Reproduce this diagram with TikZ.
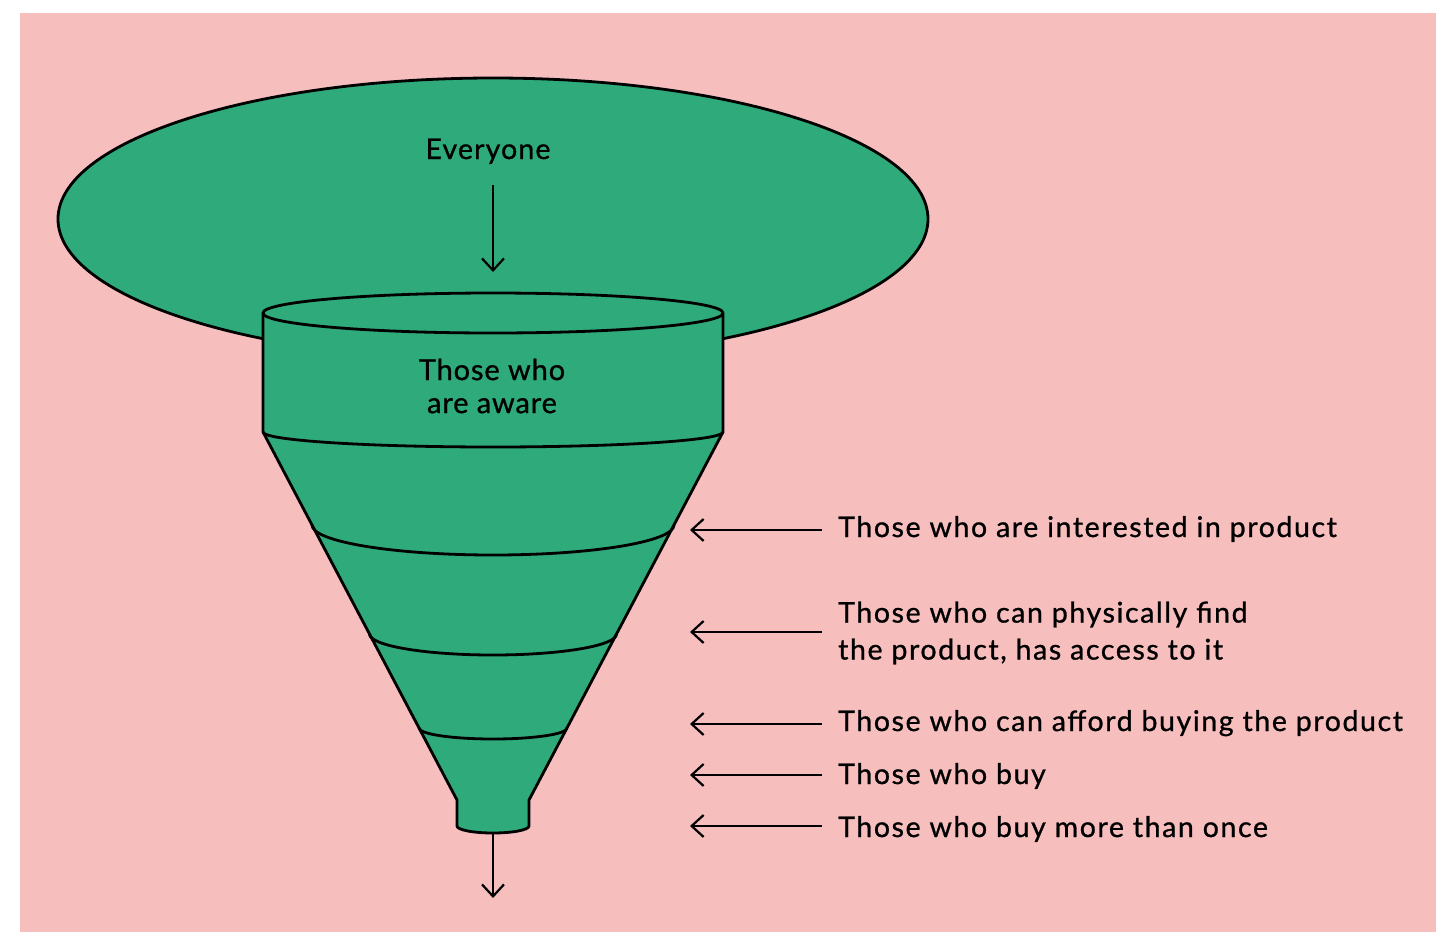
\documentclass[tikz,border=0pt]{standalone}
\usepackage{fontspec}
\setmainfont{Lato}
\newfontfamily\labfont{Lato}[LetterSpace=5.6,FakeBold=0.9]
\newfontfamily\awarefont{Lato}[LetterSpace=3,FakeBold=0.9]
\newfontfamily\everyfont{Lato}[LetterSpace=4,FakeBold=0.9]
\usetikzlibrary{arrows.meta}
\definecolor{pinkbg}{RGB}{247,190,190}
\definecolor{fgreen}{RGB}{47,170,123}
\begin{document}
\begin{tikzpicture}[x=1pt,y=-1pt,
  funnelshape/.style={fill=fgreen,draw=black,line width=2.8pt,line join=round},
  bandline/.style={draw=black,line width=2.8pt},
  arr/.style={draw=black,line width=2.2pt,-{Straight Barb[length=12pt,width=22pt,line width=2.2pt]}},
  lab/.style={font=\labfont\fontsize{28.5}{37}\selectfont,inner sep=0pt,text=black},
]
\useasboundingbox (0,0) rectangle (1436,932);
\fill[pinkbg] (19.5,13) rectangle (1436,932);
% big ellipse
\path[funnelshape] (493,219) ellipse [x radius=435, y radius=141];
% funnel body
\path[funnelshape] (263,313) -- (263,432) -- (457,800) -- (457,826)
  arc[start angle=180,end angle=0,x radius=36,y radius=7]
  -- (529,800) -- (723,432) -- (723,313) -- cycle;
% top rim
\path[funnelshape] (493,313) ellipse [x radius=230, y radius=20];
% bands
\draw[bandline] (263,432) arc[start angle=180,end angle=0,x radius=230,y radius=15];
\draw[bandline] (312,525) arc[start angle=180,end angle=0,x radius=181,y radius=30];
\draw[bandline] (369.5,634) arc[start angle=180,end angle=0,x radius=123.5,y radius=21];
\draw[bandline] (419,728) arc[start angle=180,end angle=0,x radius=74,y radius=11];
% texts
\node[lab,anchor=base,font=\everyfont\fontsize{28.5}{34}\selectfont] (everyone) at (488,159) {Everyone};
\node[lab,align=center,font=\awarefont\fontsize{29}{33}\selectfont] (aware) at (492,386) {Those who\\are aware};
\node[lab,anchor=base west] (l1) at (838,537) {Those who are interested in product};
\node[lab,anchor=west,align=left] (l2) at (838,633) {Those who can physically find\\the product, has access to it};
\node[lab,anchor=base west] (l3) at (838,731) {Those who can afford buying the product};
\node[lab,anchor=base west] (l4) at (838,784) {Those who buy};
\node[lab,anchor=base west] (l5) at (838,837) {Those who buy more than once};
% arrows
\coordinate (e1) at (493,185);
\coordinate (e2) at (493,272);
\draw[arr] (e1) -- (e2);
\coordinate (b1) at (493,833);
\coordinate (b2) at (493,898);
\draw[arr] (b1) -- (b2);
\coordinate (s1) at (822,530);
\coordinate (s2) at (822,632);
\coordinate (s3) at (822,724);
\coordinate (s4) at (822,775);
\coordinate (s5) at (822,826);
\coordinate (t1) at (690,530);
\coordinate (t2) at (690,632);
\coordinate (t3) at (690,724);
\coordinate (t4) at (690,775);
\coordinate (t5) at (690,826);
\draw[arr] (s1) -- (t1);
\draw[arr] (s2) -- (t2);
\draw[arr] (s3) -- (t3);
\draw[arr] (s4) -- (t4);
\draw[arr] (s5) -- (t5);
\end{tikzpicture}
\end{document}
